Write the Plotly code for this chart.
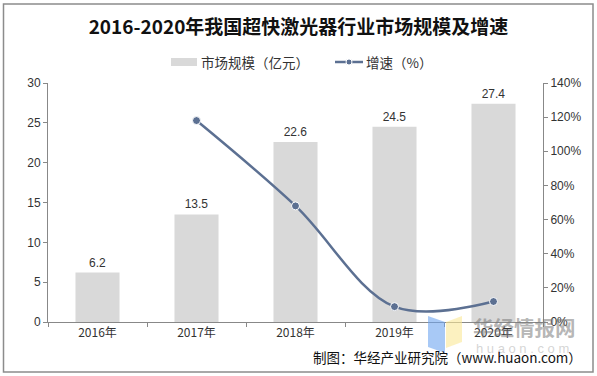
import plotly.graph_objects as go

years = ["2016年", "2017年", "2018年", "2019年", "2020年"]
market_size = [6.2, 13.5, 22.6, 24.5, 27.4]
growth_years = ["2017年", "2018年", "2019年", "2020年"]
growth_rate = [1.18, 0.68, 0.09, 0.12]

W, H = 597, 376
ml, mr, mt, mb = 48, 54, 83, 54
pw, ph = W - ml - mr, H - mt - mb

def px(x):
    return (x - ml) / pw

def py(y):
    return (H - mb - y) / ph

BAR_COLOR = "#D9D9D9"
LINE_COLOR = "#5C7092"

fig = go.Figure()
fig.add_trace(go.Bar(
    x=years, y=market_size, name="市场规模（亿元）",
    marker=dict(color=BAR_COLOR, line=dict(width=0)),
    width=0.445,
    text=[f"{v:.1f}" for v in market_size], textposition="outside",
    textfont=dict(size=12, color="#333333", family="Liberation Sans, Arial"),
    cliponaxis=False, showlegend=False,
))
fig.add_trace(go.Scatter(
    x=growth_years, y=growth_rate, name="增速（%）", yaxis="y2",
    mode="lines+markers",
    line=dict(color=LINE_COLOR, width=2.5, shape="spline", smoothing=1.0),
    marker=dict(size=8, color=LINE_COLOR, line=dict(color="white", width=1)),
    showlegend=False,
))

axis_font = dict(size=12, color="#333333", family="Liberation Sans, Arial")
fig.update_layout(
    width=W, height=H,
    margin=dict(l=ml, r=mr, t=mt, b=mb),
    paper_bgcolor="white", plot_bgcolor="white",
    title=dict(text="<b>2016-2020年我国超快激光器行业市场规模及增速</b>",
               x=0.5, xanchor="center", y=1 - 27 / H, yanchor="middle",
               font=dict(size=19, color="#111111", family="Noto Sans CJK SC")),
    showlegend=False,
    xaxis=dict(type="category", showline=True, linecolor="#888888", linewidth=1,
               ticks="outside", tickson="boundaries", ticklen=4, tickcolor="#888888",
               tickfont=dict(size=12, color="#333333", family="Noto Sans CJK SC"),
               showgrid=False),
    yaxis=dict(range=[0, 30], dtick=5, showline=True, linecolor="#888888", linewidth=1,
               ticks="outside", ticklen=4, tickcolor="#888888", showgrid=False,
               tickfont=axis_font, zeroline=False),
    yaxis2=dict(range=[0, 1.4], dtick=0.2, tickformat=".0%", overlaying="y", side="right",
                showline=True, linecolor="#888888", linewidth=1,
                ticks="outside", ticklen=4, tickcolor="#888888", showgrid=False,
                tickfont=axis_font, zeroline=False),
    font=dict(family="Noto Sans CJK SC"),
)

# custom legend
fig.add_shape(type="rect", xref="paper", yref="paper",
              x0=px(171), x1=px(197), y0=py(66), y1=py(58),
              line=dict(width=0), fillcolor=BAR_COLOR)
fig.add_annotation(text="市场规模（亿元）", xref="paper", yref="paper",
                   x=px(199), y=py(62), xanchor="left", yanchor="middle", showarrow=False,
                   font=dict(size=13.5, color="#333333", family="Noto Sans CJK SC"))
fig.add_shape(type="line", xref="paper", yref="paper",
              x0=px(335), x1=px(363), y0=py(62), y1=py(62),
              line=dict(color=LINE_COLOR, width=2.5))
fig.add_shape(type="circle", xref="paper", yref="paper",
              x0=px(346), x1=px(352), y0=py(65), y1=py(59),
              line=dict(color="white", width=1), fillcolor=LINE_COLOR)
fig.add_annotation(text="增速（%）", xref="paper", yref="paper",
                   x=px(364), y=py(62), xanchor="left", yanchor="middle", showarrow=False,
                   font=dict(size=13.5, color="#333333", family="Noto Sans CJK SC"))

# outer border
fig.add_shape(type="rect", xref="paper", yref="paper",
              x0=px(3.5), x1=px(593), y0=py(372), y1=py(4),
              line=dict(color="#8C8C8C", width=1.5), fillcolor="rgba(0,0,0,0)", layer="below")

# watermark
fig.add_shape(type="path", xref="paper", yref="paper",
              path=f"M {px(428)} {py(316)} L {px(445)} {py(322)} L {px(445)} {py(353)} L {px(428)} {py(347)} Z",
              line=dict(width=0), fillcolor="rgba(110,165,240,0.6)", layer="above")
fig.add_shape(type="path", xref="paper", yref="paper",
              path=f"M {px(446)} {py(322)} L {px(462)} {py(316)} L {px(462)} {py(342)} L {px(446)} {py(348)} Z",
              line=dict(width=0), fillcolor="rgba(250,232,150,0.6)", layer="above")
fig.add_annotation(text="<b>华经情报网</b>", xref="paper", yref="paper",
                   x=px(524), y=py(327), xanchor="center", yanchor="middle", showarrow=False,
                   font=dict(size=20.5, color="rgba(120,120,120,0.55)", family="Noto Sans CJK SC"))
fig.add_annotation(text="h u a o n . c o m", xref="paper", yref="paper",
                   x=px(522), y=py(348), xanchor="center", yanchor="middle", showarrow=False,
                   font=dict(size=13, color="rgba(170,170,170,0.5)", family="Liberation Sans"))

# source
fig.add_annotation(text="制图：华经产业研究院（www.huaon.com）", xref="paper", yref="paper",
                   x=px(584), y=py(357), xanchor="right", yanchor="middle", showarrow=False,
                   font=dict(size=13.5, color="#111111", family="Noto Sans CJK SC"))

fig.write_html("out.html", config={"displayModeBar": False},
               post_script="document.body.style.margin='0';document.body.style.overflow='hidden';")
